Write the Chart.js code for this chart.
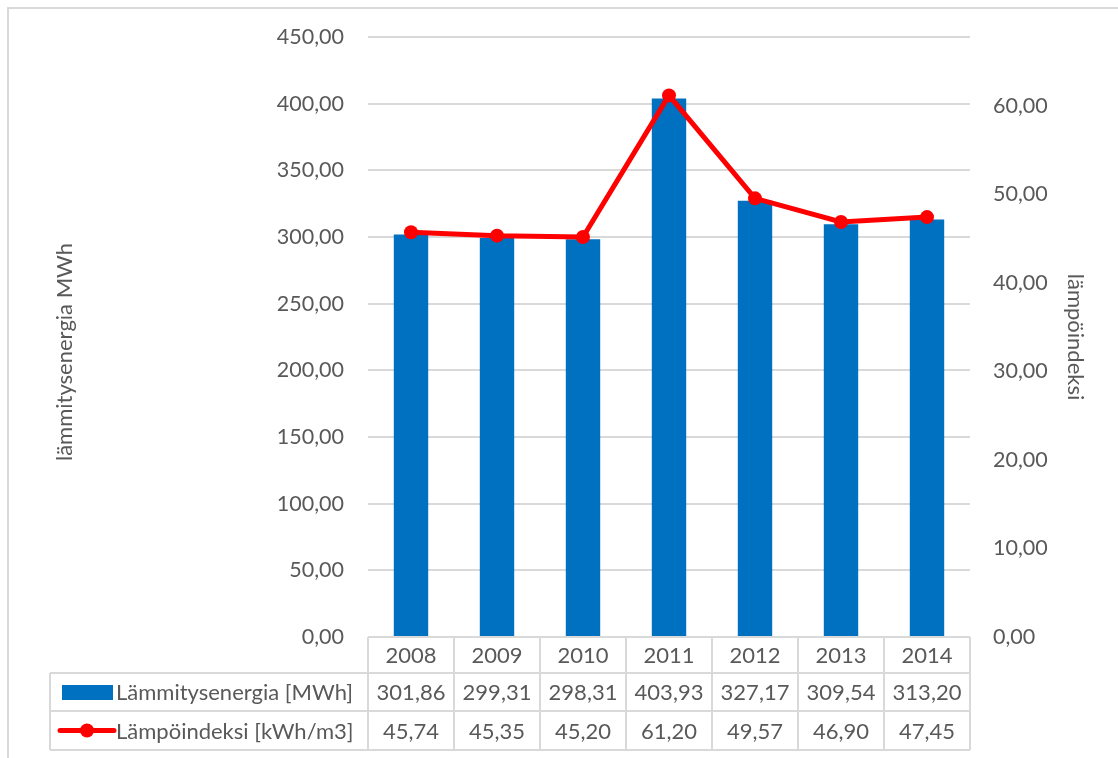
<!DOCTYPE html>
<html>
<head>
<meta charset="utf-8">
<script src="https://cdn.jsdelivr.net/npm/chart.js@4"></script>
<style>
  html, body { margin: 0; padding: 0; background: #fff; }
  #wrap { width: 1118px; height: 758px; }
</style>
</head>
<body>
<div id="wrap"><canvas id="chart"></canvas></div>
<script>
// DATA
const years = ['2008', '2009', '2010', '2011', '2012', '2013', '2014'];
const energy = [301.86, 299.31, 298.31, 403.93, 327.17, 309.54, 313.20];
const heatIndex = [45.74, 45.35, 45.20, 61.20, 49.57, 46.90, 47.45];
const energyLabel = 'Lämmitysenergia [MWh]';
const indexLabel = 'Lämpöindeksi [kWh/m3]';
const leftTitle = 'lämmitysenergia MWh';
const rightTitle = 'lämpöindeksi';

const textColor = '#595959';
const lineColor = '#d9d9d9';
const fontFamily = 'Lato, "Open Sans", sans-serif';

const fmt = (v) => v.toFixed(2).replace('.', ',');

// data table + outer frame + left title
const tablePlugin = {
    id: 'dataTable',
    beforeDraw(chart) {
        const ctx = chart.ctx;
        ctx.save();
        ctx.strokeStyle = lineColor;
        ctx.lineWidth = 2;
        ctx.strokeRect(8, 8, 1300, 1000);
        ctx.restore();
    },
    afterDraw(chart) {
        const ctx = chart.ctx;
        const area = chart.chartArea;
        const x = chart.scales.x;
        const colW = (area.right - area.left) / years.length;
        const rowTop = [area.bottom, area.bottom + 36, area.bottom + 74, area.bottom + 113];
        const tableLeft = 50;

        ctx.save();
        ctx.strokeStyle = lineColor;
        ctx.lineWidth = 2;
        // horizontal lines
        ctx.beginPath();
        ctx.moveTo(area.left, rowTop[0]); ctx.lineTo(area.right, rowTop[0]);
        for (let r = 1; r < rowTop.length; r++) {
            ctx.moveTo(tableLeft, rowTop[r]); ctx.lineTo(area.right, rowTop[r]);
        }
        // vertical lines
        ctx.moveTo(tableLeft, rowTop[1]); ctx.lineTo(tableLeft, rowTop[3]);
        for (let i = 0; i <= years.length; i++) {
            const xx = area.left + i * colW;
            ctx.moveTo(xx, rowTop[0]); ctx.lineTo(xx, rowTop[3]);
        }
        ctx.stroke();

        ctx.fillStyle = textColor;
        ctx.font = '22px ' + fontFamily;
        ctx.textAlign = 'center';
        ctx.textBaseline = 'middle';
        years.forEach((y, i) => {
            const cx = x.getPixelForValue(i);
            ctx.fillText(y, cx, (rowTop[0] + rowTop[1]) / 2 + 1);
            ctx.fillText(fmt(energy[i]), cx, (rowTop[1] + rowTop[2]) / 2 + 1);
            ctx.fillText(fmt(heatIndex[i]), cx, (rowTop[2] + rowTop[3]) / 2 + 1);
        });

        // legend keys
        const r2 = (rowTop[1] + rowTop[2]) / 2;
        const r3 = (rowTop[2] + rowTop[3]) / 2;
        ctx.fillStyle = '#0070c0';
        ctx.fillRect(62, r2 - 7, 51, 15);
        ctx.strokeStyle = '#ff0000';
        ctx.lineWidth = 5;
        ctx.lineCap = 'round';
        ctx.beginPath();
        ctx.moveTo(60, r3); ctx.lineTo(114, r3);
        ctx.stroke();
        ctx.fillStyle = '#ff0000';
        ctx.beginPath();
        ctx.arc(87, r3, 7, 0, Math.PI * 2);
        ctx.fill();

        ctx.fillStyle = textColor;
        ctx.textAlign = 'left';
        ctx.fillText(energyLabel, 116, r2 + 1);
        ctx.fillText(indexLabel, 116, r3 + 1);

        // left axis title, centred on the whole chart height
        ctx.translate(65, 352);
        ctx.rotate(-Math.PI / 2);
        ctx.textAlign = 'center';
        ctx.fillText(leftTitle, 0, 0);
        ctx.restore();
    }
};

new Chart(document.getElementById('chart'), {
    type: 'bar',
    data: {
        labels: years,
        datasets: [
            {
                type: 'line',
                label: indexLabel,
                data: heatIndex,
                yAxisID: 'y1',
                borderColor: '#ff0000',
                backgroundColor: '#ff0000',
                borderWidth: 5,
                pointRadius: 7,
                pointBorderWidth: 0,
                tension: 0,
                order: 0,
            },
            {
                label: energyLabel,
                data: energy,
                yAxisID: 'y',
                backgroundColor: '#0070c0',
                barPercentage: 0.4,
                categoryPercentage: 1,
                order: 1,
            }
        ]
    },
    options: {
        responsive: true,
        maintainAspectRatio: false,
        animation: false,
        plugins: {
            legend: { display: false },
            tooltip: { enabled: false },
        },
        layout: {
            padding: { top: 37, bottom: 121, left: 0, right: 0 }
        },
        scales: {
            x: {
                grid: { display: false },
                border: { display: false },
                ticks: { display: false },
                afterFit: (scale) => { scale.height = 0; },
            },
            y: {
                position: 'left',
                min: 0,
                max: 450,
                ticks: {
                    stepSize: 50,
                    padding: 24,
                    color: textColor,
                    font: { family: fontFamily, size: 21.5 },
                    callback: (v) => fmt(v),
                },
                grid: { color: lineColor, lineWidth: 2, drawTicks: false },
                border: { display: false },
                afterFit: (scale) => { scale.width = 368; },
            },
            y1: {
                position: 'right',
                min: 0,
                max: 67.8,
                ticks: {
                    stepSize: 10,
                    padding: 23,
                    color: textColor,
                    font: { family: fontFamily, size: 21.5 },
                    callback: (v) => fmt(v),
                },
                afterBuildTicks: (scale) => {
                    scale.ticks = scale.ticks.filter(t => t.value % 10 === 0);
                },
                grid: { display: false, drawTicks: false },
                border: { display: false },
                title: {
                    display: true,
                    text: rightTitle,
                    color: textColor,
                    font: { family: fontFamily, size: 22 },
                    padding: { top: 30, bottom: 0 },
                },
                afterFit: (scale) => { scale.width = 148; },
            }
        }
    },
    plugins: [tablePlugin]
});
</script>
</body>
</html>
